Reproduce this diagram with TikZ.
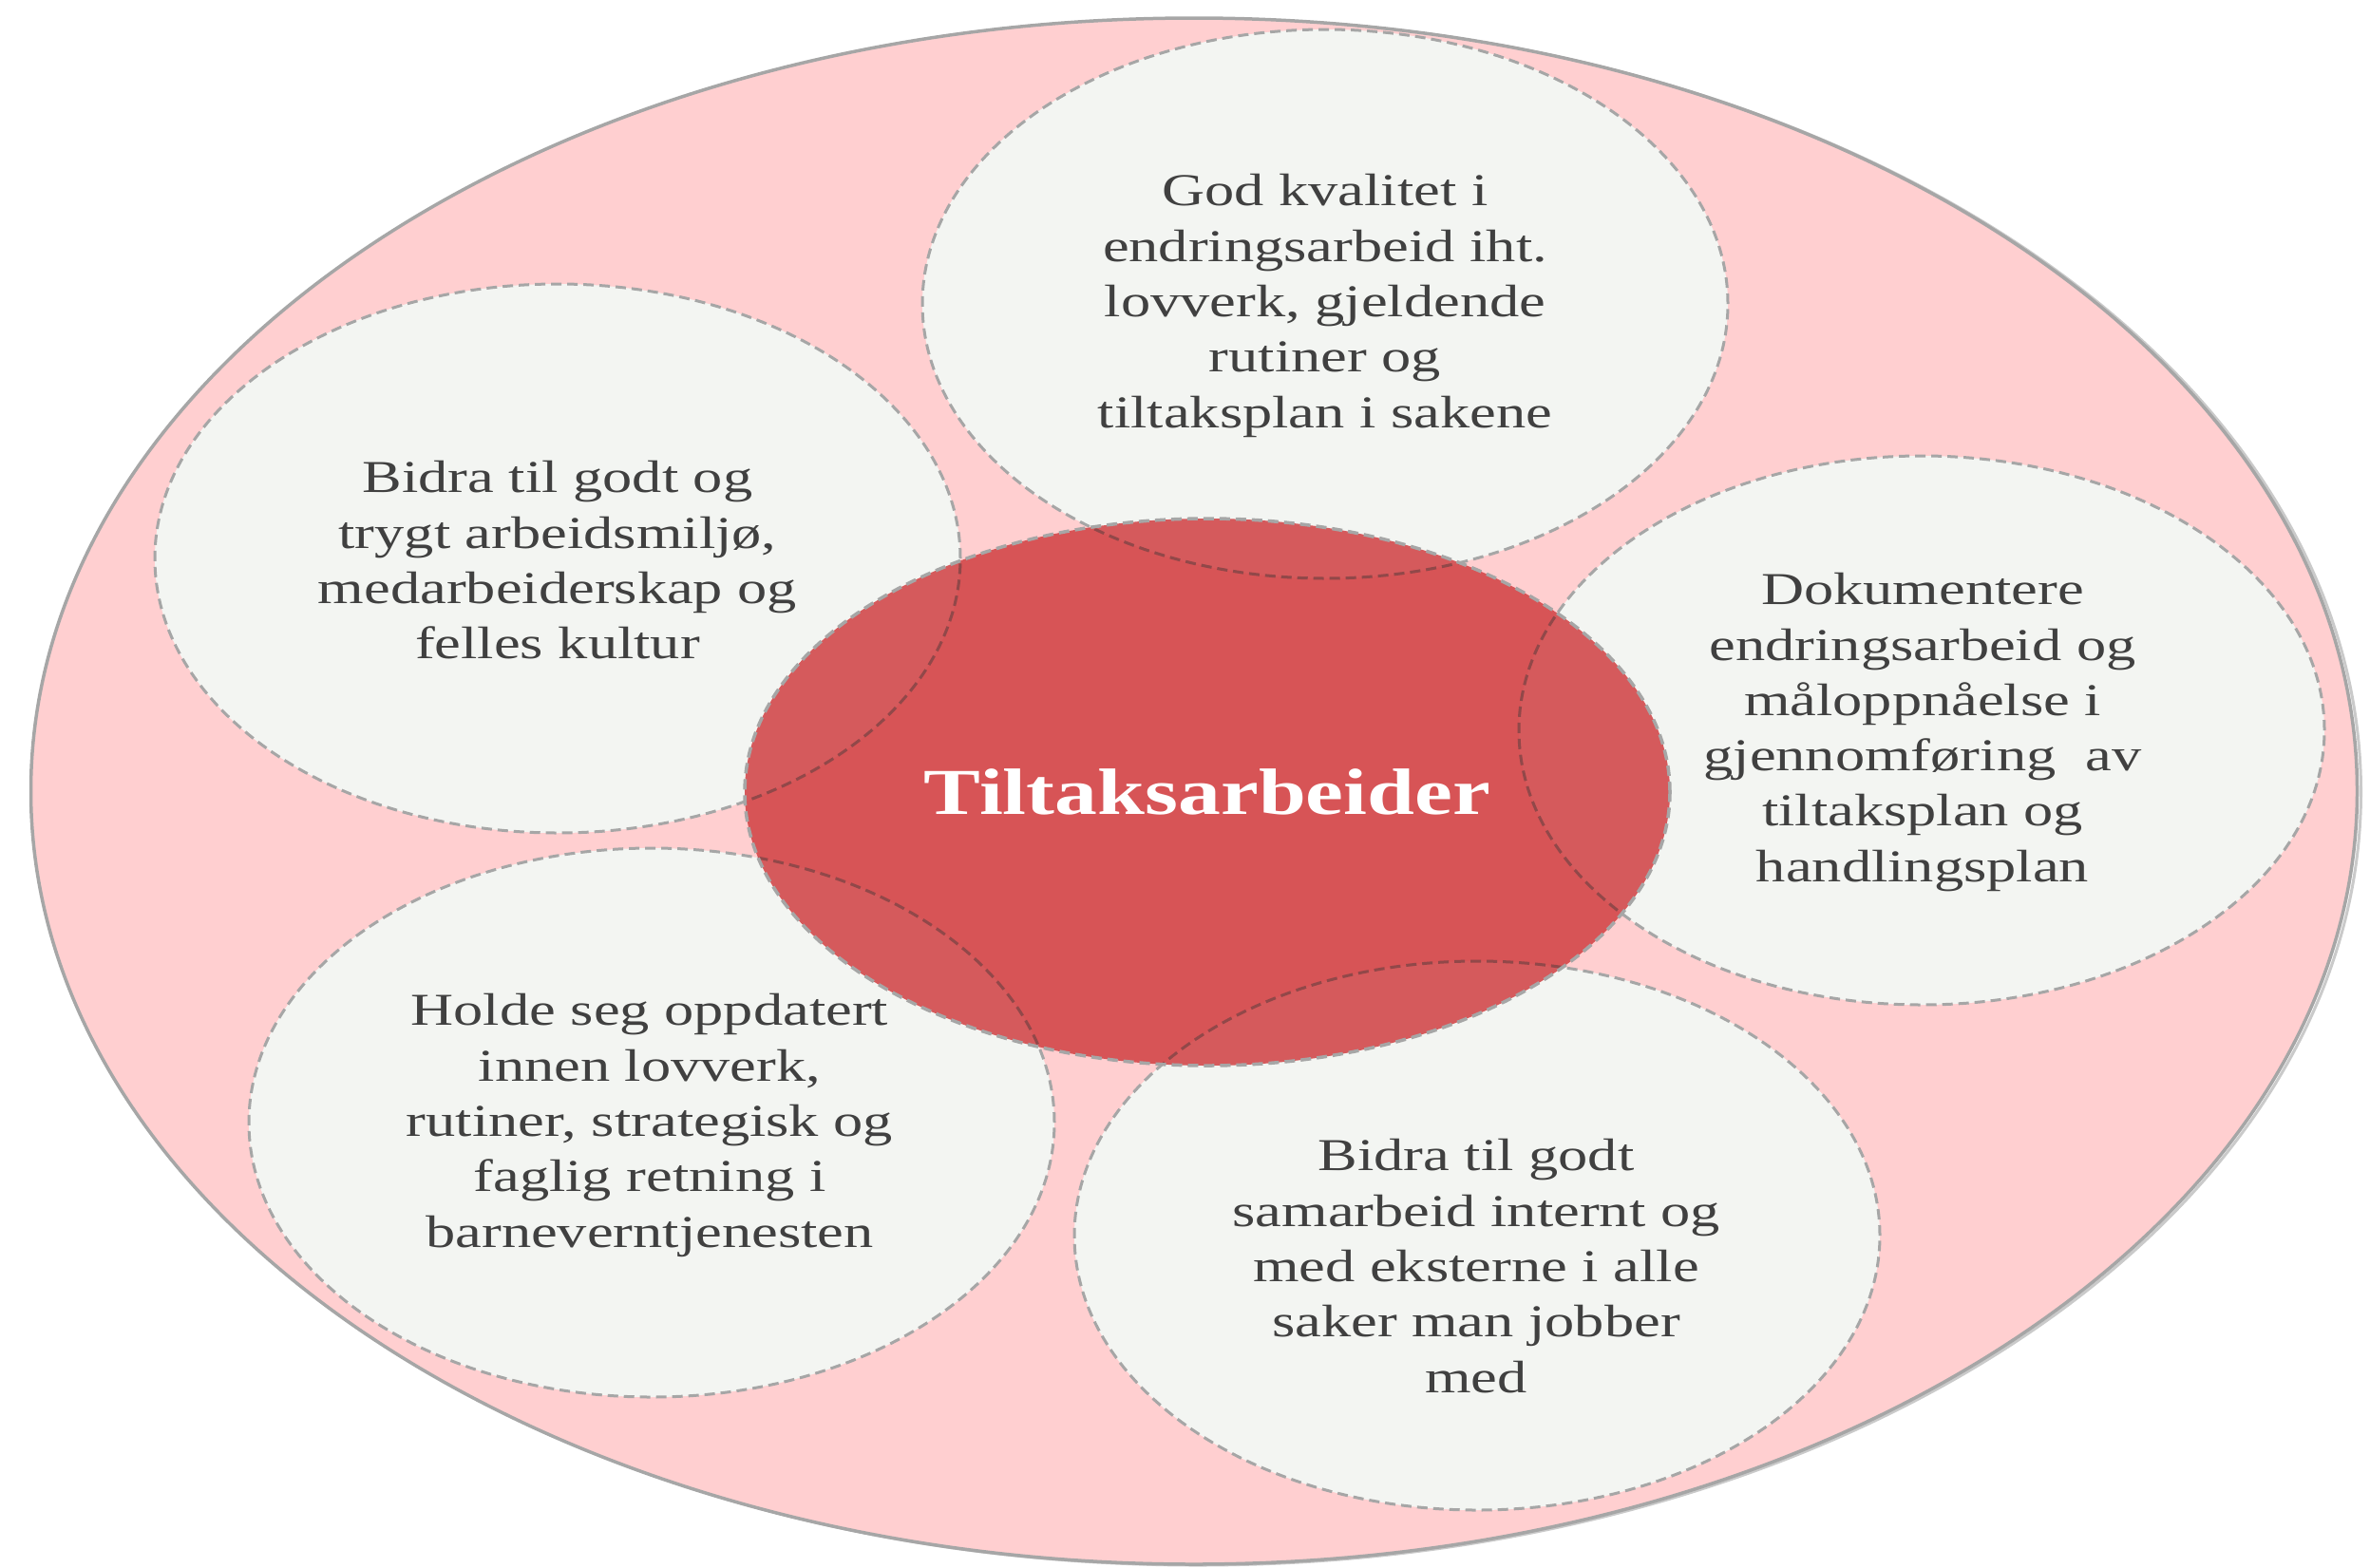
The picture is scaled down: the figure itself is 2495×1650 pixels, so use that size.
\documentclass[tikz,border=0pt]{standalone}
\usepackage{fontspec}
\setmainfont{Liberation Serif}[FakeStretch=1.3]
\usetikzlibrary{shapes.geometric}
\definecolor{outerpink}{HTML}{FFCFD0}
\definecolor{rimgray}{HTML}{A6A6A6}
\definecolor{bubblefill}{HTML}{F3F5F2}
\definecolor{corered}{HTML}{CF393C}
\definecolor{txtgray}{HTML}{404040}
\begin{document}
\begin{tikzpicture}[x=1pt,y=-1pt,
  outerring/.style={ellipse, fill=outerpink, draw=rimgray, line width=3.5pt, minimum width=2449pt, minimum height=1628pt, inner sep=0pt},
  ringshadow/.style={ellipse, draw=rimgray!60, line width=3pt, minimum width=2449pt, minimum height=1628pt, inner sep=0pt},
  bubble/.style={ellipse, fill=bubblefill, draw=rimgray, dash pattern=on 11pt off 6pt, line width=3pt, minimum width=848pt, minimum height=578pt, inner sep=0pt},
  bubbleline/.style={ellipse, draw=rimgray!40!black, draw opacity=0.4, dash pattern=on 11pt off 6pt, line width=3pt, minimum width=848pt, minimum height=578pt, inner sep=0pt},
  core/.style={ellipse, fill=corered, fill opacity=0.82, draw=rimgray, dash pattern=on 11pt off 6pt, line width=3.5pt, minimum width=974pt, minimum height=576pt, inner sep=0pt},
  label/.style={align=center, text=txtgray, font=\fontsize{48}{58.3}\selectfont, inner sep=0pt},
  title/.style={text=white, font=\fontsize{69}{80}\selectfont\bfseries, inner sep=0pt}]
\useasboundingbox (0,0) rectangle (2495,1650);
\node[ringshadow] (shadow) at (1261,834) {};
\node[outerring] (outer) at (1257,833) {};
\node[bubble] (btop) at (1395,320) {};
\node[bubble] (bleft) at (587,588) {};
\node[bubble] (bright) at (2023,769) {};
\node[bubble] (bbl) at (686,1182) {};
\node[bubble] (bbr) at (1555,1301) {};
\node[core] (core) at (1271,834) {};
\begin{scope}
  \clip (core.center) ellipse [x radius=485pt, y radius=286pt];
  \node[bubbleline] (btopline) at (btop.center) {};
  \node[bubbleline] (bleftline) at (bleft.center) {};
  \node[bubbleline] (brightline) at (bright.center) {};
  \node[bubbleline] (bblline) at (bbl.center) {};
  \node[bubbleline] (bbrline) at (bbr.center) {};
\end{scope}
\node[title] (coretext) at (1271,834) {Tiltaksarbeider};
\node[label] (ttop) at (1395,322) {God kvalitet i\\endringsarbeid iht.\\lovverk, gjeldende\\rutiner og\\tiltaksplan i sakene};
\node[label] (tleft) at (587,590) {Bidra til godt og\\trygt arbeidsmiljø,\\medarbeiderskap og\\felles kultur};
\node[label] (tright) at (2024,771) {Dokumentere\\endringsarbeid og\\måloppnåelse i\\gjennomføring\ \ av\\tiltaksplan og\\handlingsplan};
\node[label] (tbl) at (684,1185) {Holde seg oppdatert\\innen lovverk,\\rutiner, strategisk og\\faglig retning i\\barneverntjenesten};
\node[label] (tbr) at (1554,1333) {Bidra til godt\\samarbeid internt og\\med eksterne i alle\\saker man jobber\\med};
\end{tikzpicture}
\end{document}
